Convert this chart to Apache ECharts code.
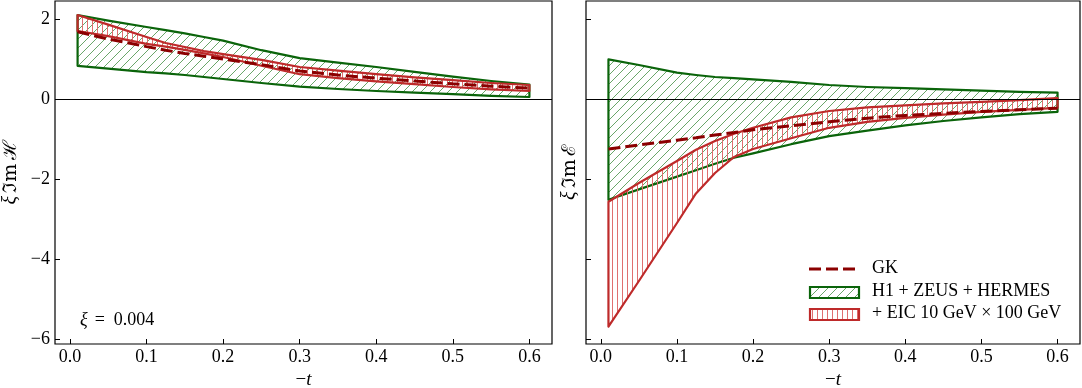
<!DOCTYPE html>
<html><head><meta charset="utf-8">
<script src="https://cdn.jsdelivr.net/npm/echarts@6/dist/echarts.min.js"></script>
<style>html,body{margin:0;padding:0;background:#fff}#c{width:1082px;height:388px}</style>
</head><body><div id="c"></div>
<script>
// -t grid shared by all curves
const tValues = [0.01, 0.05, 0.1, 0.125, 0.15, 0.175, 0.2, 0.25, 0.3, 0.35, 0.4, 0.45, 0.5, 0.55, 0.6];

// Left panel: xi Im H
const H_fitUpper = [2.10, 1.96, 1.80, 1.72, 1.64, 1.55, 1.46, 1.22, 1.02, 0.91, 0.80, 0.68, 0.56, 0.45, 0.36];
const H_fitLower = [0.83, 0.76, 0.67, 0.64, 0.60, 0.55, 0.50, 0.40, 0.31, 0.25, 0.20, 0.16, 0.12, 0.08, 0.05];
const H_eicUpper = [2.10, 1.86, 1.55, 1.40, 1.30, 1.20, 1.12, 0.98, 0.80, 0.71, 0.62, 0.54, 0.47, 0.40, 0.35];
const H_eicLower = [1.70, 1.57, 1.38, 1.31, 1.23, 1.14, 1.05, 0.83, 0.62, 0.52, 0.44, 0.37, 0.30, 0.24, 0.20];
const H_gk       = [1.68, 1.50, 1.31, 1.22, 1.14, 1.07, 1.00, 0.86, 0.70, 0.60, 0.52, 0.45, 0.38, 0.32, 0.27];

// Right panel: xi Im E
const E_fitUpper = [0.99, 0.85, 0.66, 0.60, 0.55, 0.52, 0.49, 0.43, 0.35, 0.30, 0.27, 0.24, 0.21, 0.18, 0.16];
const E_fitLower = [-2.52, -2.26, -1.94, -1.78, -1.62, -1.47, -1.36, -1.13, -0.93, -0.79, -0.66, -0.55, -0.46, -0.38, -0.32];
const E_eicUpper = [-2.57, -2.10, -1.55, -1.27, -1.05, -0.87, -0.72, -0.46, -0.30, -0.21, -0.16, -0.11, -0.07, -0.03, 0.02];
const E_eicLower = [-5.69, -4.55, -3.10, -2.36, -1.85, -1.45, -1.25, -0.98, -0.72, -0.57, -0.47, -0.39, -0.32, -0.27, -0.22];
const E_gk       = [-1.25, -1.15, -1.03, -0.97, -0.90, -0.84, -0.77, -0.67, -0.57, -0.48, -0.41, -0.36, -0.31, -0.27, -0.23];

const xTicks = [0, 0.1, 0.2, 0.3, 0.4, 0.5, 0.6];
const yTicks = [-6, -4, -2, 0, 2];
const legendNames = ['GK', 'H1 + ZEUS + HERMES', '+ EIC 10 GeV \u00d7 100 GeV'];
const xiLabel = '0.004';

const FONT = '"Liberation Serif", "DejaVu Serif", serif';
const GREEN = '#0a640a', GREEN_H = '#6aa66a';
const RED = '#be2a2a', RED_H = '#e07070';
const GKC = '#8b0000';

function diagHatch(color) {
  const s = 9, c = document.createElement('canvas');
  c.width = s; c.height = s;
  const g = c.getContext('2d');
  g.strokeStyle = color; g.lineWidth = 1;
  g.beginPath();
  g.moveTo(-1, s + 1); g.lineTo(s + 1, -1);
  g.moveTo(-1, 1); g.lineTo(1, -1);
  g.moveTo(s - 1, s + 1); g.lineTo(s + 1, s - 1);
  g.stroke();
  return c;
}
function vertHatch(color) {
  const s = 5, c = document.createElement('canvas');
  c.width = s; c.height = s;
  const g = c.getContext('2d');
  g.fillStyle = color; g.fillRect(2, 0, 1, s);
  return c;
}
const greenPat = { image: diagHatch(GREEN_H), repeat: 'repeat' };
const redPat = { image: vertHatch(RED_H), repeat: 'repeat' };

function band(name, xi, upper, lower, fill, stroke, z) {
  return {
    type: 'custom', name, xAxisIndex: xi, yAxisIndex: xi, z,
    data: tValues.map((t, i) => [t, upper[i], lower[i]]),
    renderItem(params, api) {
      if (params.dataIndex !== 0) return null;
      const pts = [];
      for (let i = 0; i < tValues.length; i++) pts.push(api.coord([tValues[i], upper[i]]));
      for (let i = tValues.length - 1; i >= 0; i--) pts.push(api.coord([tValues[i], lower[i]]));
      return { type: 'polygon', shape: { points: pts },
        style: { fill: fill, stroke: stroke, lineWidth: 2.2, lineJoin: 'round' } };
    },
    silent: true
  };
}
function gkLine(xi, vals) {
  return {
    type: 'line', name: 'GK', xAxisIndex: xi, yAxisIndex: xi, z: 10,
    data: tValues.map((t, i) => [t, vals[i]]),
    showSymbol: false, smooth: false,
    lineStyle: { color: GKC, width: 3, type: [12, 5] },
    markLine: { silent: true, symbol: ['none', 'none'], label: { show: false },
      lineStyle: { color: '#000', width: 1.2, type: 'solid' }, data: [{ yAxis: 0 }] }
  };
}

const rich = {
  i: { fontFamily: FONT, fontStyle: 'italic', fontSize: 20, color: '#000' },
  n: { fontFamily: FONT, fontSize: 20, color: '#000' },
  s: { fontFamily: '"DejaVu Serif", serif', fontSize: 19, color: '#000' }
};
const richX = {
  i: { fontFamily: FONT, fontStyle: 'italic', fontSize: 19, color: '#000' },
  n: { fontFamily: FONT, fontSize: 19, color: '#000' }
};

function xAxis(gi) {
  return {
    type: 'value', gridIndex: gi, min: -0.0195, max: 0.6295,
    name: '{n|\u2212}{i|t}', nameLocation: 'middle', nameGap: 25,
    nameTextStyle: { rich: richX },
    axisLine: { show: false, onZero: false },
    axisTick: { show: true, inside: true, length: 5, customValues: xTicks, lineStyle: { color: '#000', width: 1 } },
    axisLabel: { show: true, customValues: xTicks, margin: 4, fontFamily: FONT, fontSize: 18, color: '#000',
      formatter: v => v.toFixed(1) },
    splitLine: { show: false }
  };
}
function yAxis(gi, nameSym, showLabels, gap) {
  return {
    type: 'value', gridIndex: gi, min: -6.125, max: 2.45,
    name: '{i|\u03be} {s|\u2111m} {s|' + nameSym + '}', nameLocation: 'middle', nameGap: gap, nameRotate: 90,
    nameTextStyle: { rich },
    axisLine: { show: false, onZero: false },
    axisTick: { show: true, inside: true, length: 5, customValues: yTicks, lineStyle: { color: '#000', width: 1 } },
    axisLabel: { show: showLabels, customValues: yTicks, margin: 5, fontFamily: FONT, fontSize: 18, color: '#000',
      formatter: v => (v < 0 ? '\u2212' + Math.abs(v) : String(v)) },
    splitLine: { show: false }
  };
}

const gridCommon = { show: true, borderColor: '#000', borderWidth: 1.2, backgroundColor: 'transparent',
  containLabel: false, outerBoundsMode: 'none' };
const option = {
  animation: false,
  grid: [
    Object.assign({ left: 55, top: 1, width: 497, height: 343 }, gridCommon),
    Object.assign({ left: 586, top: 1, width: 494, height: 343 }, gridCommon)
  ],
  xAxis: [xAxis(0), xAxis(1)],
  yAxis: [yAxis(0, '\u210b', true, 34), yAxis(1, '\u2130', false, 6)],
  series: [
    band(legendNames[1], 0, H_fitUpper, H_fitLower, greenPat, GREEN, 2),
    band(legendNames[2], 0, H_eicUpper, H_eicLower, redPat, RED, 3),
    gkLine(0, H_gk),
    band(legendNames[1], 1, E_fitUpper, E_fitLower, greenPat, GREEN, 2),
    band(legendNames[2], 1, E_eicUpper, E_eicLower, redPat, RED, 3),
    gkLine(1, E_gk)
  ],
  graphic: [
    { type: 'text', left: 80, top: 311, style: { text: '{i|\u03be}{e|=}{n|' + xiLabel + '}', rich: {
      i: { fontFamily: FONT, fontStyle: 'italic', fontSize: 18, fill: '#000' },
      e: { fontFamily: FONT, fontSize: 18, fill: '#000', padding: [0, 0, 0, 7] },
      n: { fontFamily: FONT, fontSize: 18, fill: '#000', padding: [0, 0, 0, 9] } } } },
    { type: 'line', shape: { x1: 809, y1: 269, x2: 859, y2: 269 },
      style: { stroke: GKC, lineWidth: 3, lineDash: [12, 5] } },
    { type: 'rect', shape: { x: 810, y: 287, width: 49, height: 11 },
      style: { fill: greenPat, stroke: GREEN, lineWidth: 2.2 } },
    { type: 'rect', shape: { x: 810, y: 309, width: 49, height: 11 },
      style: { fill: redPat, stroke: RED, lineWidth: 2.2 } },
    { type: 'text', left: 872, top: 259, style: { text: legendNames[0], font: '18px ' + FONT, fill: '#000' } },
    { type: 'text', left: 872, top: 282, style: { text: legendNames[1], font: '18px ' + FONT, fill: '#000' } },
    { type: 'text', left: 872, top: 304, style: { text: legendNames[2], font: '18px ' + FONT, fill: '#000' } }
  ]
};
const chart = echarts.init(document.getElementById('c'), null, { renderer: 'canvas' });
chart.setOption(option);
</script>
</body></html>
